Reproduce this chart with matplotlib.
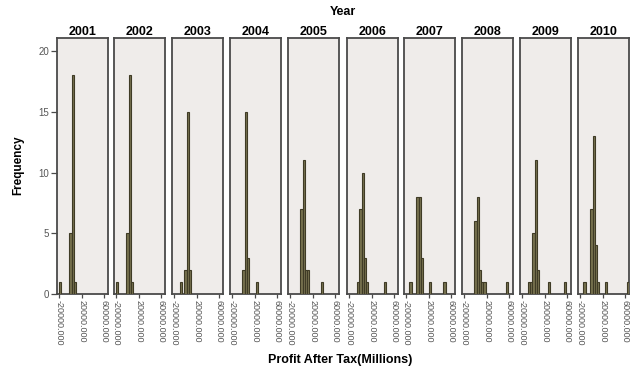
import matplotlib
matplotlib.use("Agg")
import matplotlib.pyplot as plt

# Histogramas de lucro apos impostos, um painel por ano
anos = ["2001", "2002", "2003", "2004", "2005", "2006", "2007", "2008", "2009", "2010"]

# centros das classes (milhoes) e frequencias de cada ano
centros = {
    "2001": [-18000, 0, 4000, 8000],
    "2002": [-18000, 0, 4000, 8000],
    "2003": [-8000, 0, 4000, 8000],
    "2004": [0, 4000, 8000, 24000],
    "2005": [0, 4000, 8000, 12000, 36000],
    "2006": [-4000, 0, 4000, 8000, 12000, 44000],
    "2007": [-12000, 0, 4000, 8000, 22000, 48000],
    "2008": [0, 4000, 8000, 12000, 16000, 56000],
    "2009": [-8000, -4000, 0, 4000, 8000, 28000, 56000],
    "2010": [-12000, 0, 4000, 8000, 12000, 26000, 64000],
}
freqs = {
    "2001": [1, 5, 18, 1],
    "2002": [1, 5, 18, 1],
    "2003": [1, 2, 15, 2],
    "2004": [2, 15, 3, 1],
    "2005": [7, 11, 2, 2, 1],
    "2006": [1, 7, 10, 3, 1, 1],
    "2007": [1, 8, 8, 3, 1, 1],
    "2008": [6, 8, 2, 1, 1, 1],
    "2009": [1, 1, 5, 11, 2, 1, 1],
    "2010": [1, 7, 13, 4, 1, 1, 1],
}

xticks = [-20000, 20000, 60000]
xticklabels = ["-20000.000", "20000.000", "60000.000"]
yticks = [0, 5, 10, 15, 20]
largura = 4000

plt.rcParams["font.family"] = ["Liberation Sans", "DejaVu Sans"]

fig = plt.figure(figsize=(6.35, 3.70), dpi=100)
W, H = 635.0, 370.0
lefts = [57, 114, 172, 230, 288, 347, 404, 462, 520, 578]
top, bottom, pw = 38, 294, 51

for i, ano in enumerate(anos):
    ax = fig.add_axes([lefts[i] / W, 1 - bottom / H, pw / W, (bottom - top) / H])
    ax.set_facecolor("#efecea")
    ax.bar(centros[ano], freqs[ano], width=largura, color="#77724f",
           edgecolor="#3f3b26", linewidth=0.8, zorder=3)
    ax.set_xlim(-23600, 66400)
    ax.set_ylim(0, 21.07)
    for s in ax.spines.values():
        s.set_color("#4a4a4a")
        s.set_linewidth(1.3)
    ax.set_xticks(xticks)
    ax.set_xticklabels(xticklabels, rotation=-90, fontsize=6.5, color="#555555")
    ax.tick_params(axis="x", length=3, width=0.9, color="#4a4a4a", pad=1.5)
    if i == 0:
        ax.set_yticks(yticks)
        ax.set_yticklabels([str(v) for v in yticks], fontsize=7, color="#555555")
        ax.tick_params(axis="y", length=4, width=0.9, color="#4a4a4a", pad=1.5)
    else:
        ax.set_yticks([])
    ax.set_title(ano, fontsize=9, fontweight="bold", pad=1.5)

fig.text(343 / W, 1 - 12 / H, "Year", ha="center", va="center",
         fontsize=9, fontweight="bold")
fig.text(340 / W, 1 - 360 / H, "Profit After Tax(Millions)", ha="center",
         va="center", fontsize=9, fontweight="bold")
fig.text(18 / W, 1 - 165 / H, "Frequency", ha="center", va="center",
         rotation=90, fontsize=8.5, fontweight="bold")

fig.savefig("out.png", dpi=100, facecolor="white")
